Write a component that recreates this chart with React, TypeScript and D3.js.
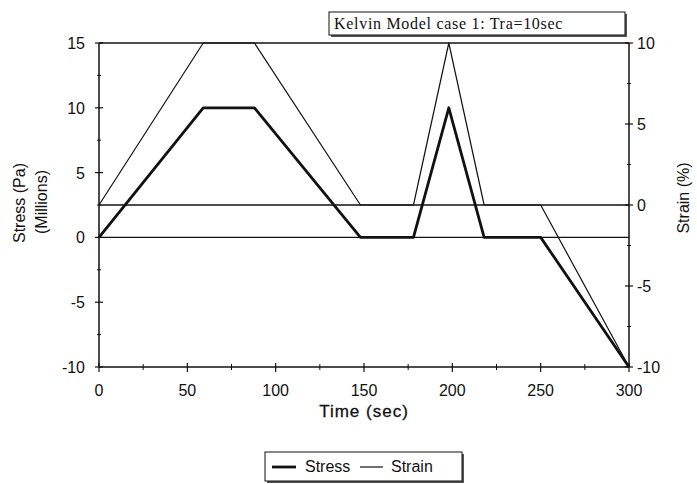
import React from "react";
import * as d3 from "d3";

const timeSec = [0, 59, 88, 148, 178, 198, 218, 250, 300];
const stressMPa = [0, 10, 10, 0, 0, 10, 0, 0, -10];
const strainPct = [0, 10, 10, 0, 0, 10, 0, 0, -10];

const xTickLabels = [0, 50, 100, 150, 200, 250, 300];
const xMinorTicks = [25, 75, 125, 175, 225, 275];
const leftTickLabels = [15, 10, 5, 0, -5, -10];
const leftMinorTicks = [12.5, 7.5, 2.5, -2.5, -7.5];
const rightTickLabels = [10, 5, 0, -5, -10];
const rightMinorTicks = [7.5, 2.5, -2.5, -7.5];

const titleText = "Kelvin Model case 1: Tra=10sec";
const seriesNames = ["Stress", "Strain"];

const W = 697;
const H = 484;
const L = 99, R = 629, T = 43, B = 367;
const SANS = "'Liberation Sans', Arial, sans-serif";
const SERIF = "'Liberation Serif', 'Times New Roman', serif";
const INK = "#111";

export default function App() {
  const x = d3.scaleLinear().domain([0, 300]).range([L, R]);
  const yL = d3.scaleLinear().domain([-10, 15]).range([B, T]);
  const yR = d3.scaleLinear().domain([-10, 10]).range([B, T]);

  const stressLine = d3
    .line<number>()
    .x((_, i) => x(timeSec[i]))
    .y((d) => yL(d));
  const strainLine = d3
    .line<number>()
    .x((_, i) => x(timeSec[i]))
    .y((d) => yR(d));

  return (
    <svg
      width={W}
      height={H}
      style={{ position: "absolute", left: 0, top: 0, background: "#fff" }}
      fontFamily={SANS}
    >
      <rect width={W} height={H} fill="#fff" />

      {/* zero reference lines */}
      <line x1={L} x2={R} y1={yR(0)} y2={yR(0)} stroke={INK} strokeWidth={1.3} />
      <line x1={L} x2={R} y1={yL(0)} y2={yL(0)} stroke={INK} strokeWidth={1.3} />
      {/* top border */}
      <line x1={L} x2={R} y1={T} y2={T} stroke={INK} strokeWidth={1.3} />

      {/* series */}
      <path d={strainLine(strainPct) || ""} fill="none" stroke={INK} strokeWidth={1.2} strokeLinejoin="round" />
      <path d={stressLine(stressMPa) || ""} fill="none" stroke={INK} strokeWidth={2.8} strokeLinejoin="round" />

      {/* axes */}
      <line x1={L} x2={L} y1={T} y2={B} stroke={INK} strokeWidth={1.5} />
      <line x1={R} x2={R} y1={T} y2={B} stroke={INK} strokeWidth={1.5} />
      <line x1={L} x2={R} y1={B} y2={B} stroke={INK} strokeWidth={1.5} />

      {/* x ticks */}
      {xTickLabels.map((t) => (
        <g key={"xt" + t}>
          <line x1={x(t)} x2={x(t)} y1={B - 4} y2={B + 5} stroke={INK} strokeWidth={1.2} />
          <text x={x(t)} y={B + 29} fontSize={16} textAnchor="middle" fill={INK}>
            {t}
          </text>
        </g>
      ))}
      {xMinorTicks.map((t) => (
        <line key={"xm" + t} x1={x(t)} x2={x(t)} y1={B - 3} y2={B + 3} stroke={INK} strokeWidth={1} />
      ))}

      {/* left ticks */}
      {leftTickLabels.map((v) => (
        <g key={"lt" + v}>
          <line x1={L - 4} x2={L + 4} y1={yL(v)} y2={yL(v)} stroke={INK} strokeWidth={1.2} />
          <text x={L - 14} y={yL(v) + 6} fontSize={16} textAnchor="end" fill={INK}>
            {v}
          </text>
        </g>
      ))}
      {leftMinorTicks.map((v) => (
        <line key={"lm" + v} x1={L - 2} x2={L + 2} y1={yL(v)} y2={yL(v)} stroke={INK} strokeWidth={1} />
      ))}

      {/* right ticks */}
      {rightTickLabels.map((v) => (
        <g key={"rt" + v}>
          <line x1={R - 4} x2={R + 4} y1={yR(v)} y2={yR(v)} stroke={INK} strokeWidth={1.2} />
          <text x={R + 8} y={yR(v) + 6} fontSize={16} textAnchor="start" fill={INK}>
            {v}
          </text>
        </g>
      ))}
      {rightMinorTicks.map((v) => (
        <line key={"rm" + v} x1={R - 2} x2={R + 2} y1={yR(v)} y2={yR(v)} stroke={INK} strokeWidth={1} />
      ))}

      {/* axis titles */}
      <text x={364} y={417} fontSize={17} textAnchor="middle" fill={INK} letterSpacing={1} stroke={INK} strokeWidth={0.3}>
        Time (sec)
      </text>
      <text transform="translate(25,203) rotate(-90)" fontSize={16} textAnchor="middle" fill={INK}>
        Stress (Pa)
      </text>
      <text transform="translate(47,202) rotate(-90)" fontSize={16} textAnchor="middle" fill={INK}>
        (Millions)
      </text>
      <text transform="translate(689,198) rotate(-90)" fontSize={16} textAnchor="middle" fill={INK}>
        Strain (%)
      </text>

      {/* title box */}
      <rect x={331} y={14} width={296} height={23} fill="#555" />
      <rect x={329} y={12} width={296} height={23} fill="#fff" stroke={INK} strokeWidth={1} />
      <text x={334} y={29} fontFamily={SERIF} fontSize={16} letterSpacing={0.7} fill={INK}>
        {titleText}
      </text>

      {/* legend */}
      <rect x={267} y={454} width={197} height={29} fill="#555" />
      <rect x={265} y={452} width={197} height={29} fill="#fff" stroke={INK} strokeWidth={1} />
      <line x1={272} x2={296} y1={467} y2={467} stroke={INK} strokeWidth={2.8} />
      <text x={305} y={472} fontSize={16} fill={INK}>
        {seriesNames[0]}
      </text>
      <line x1={360} x2={383} y1={467} y2={467} stroke={INK} strokeWidth={1.2} />
      <text x={391} y={472} fontSize={16} fill={INK}>
        {seriesNames[1]}
      </text>
    </svg>
  );
}
